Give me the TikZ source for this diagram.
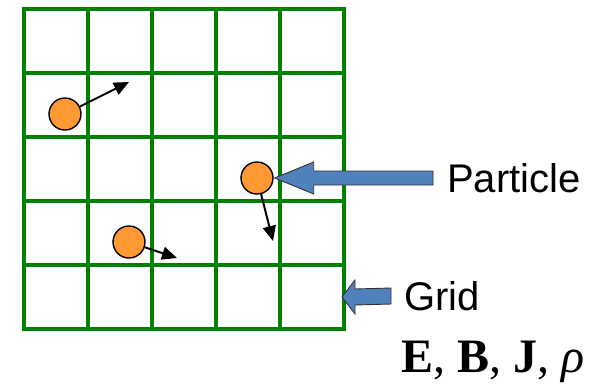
\documentclass[tikz,border=0pt]{standalone}
\usepackage{fontspec}
\setsansfont{Liberation Sans}
\newfontfamily\fieldfont{Liberation Serif}
\usetikzlibrary{arrows.meta,calc}
\definecolor{gridgreen}{RGB}{0,128,0}
\definecolor{partorange}{RGB}{255,153,51}
\definecolor{pointblue}{RGB}{79,129,189}
\tikzset{
  gridline/.style={draw=gridgreen,line width=3.6pt,line cap=rect},
  particle/.style={circle,draw=black,line width=1.4pt,fill=partorange,minimum size=32pt,inner sep=0pt},
  velocity/.style={line width=2pt,-{Triangle[length=15pt,width=13pt]}},
  blockarrow/.style={draw=black!80,line width=0.9pt,fill=pointblue,line join=miter},
  label/.style={font=\sffamily\fontsize{40}{42}\selectfont,inner sep=0pt}
}
\begin{document}
\begin{tikzpicture}[x=1pt,y=-1pt]
    \useasboundingbox (0,0) rectangle (601,386);
    % grid cells
    \foreach \k in {0,...,5} {
        \draw[gridline] (24+64*\k,9) -- (24+64*\k,329);
        \draw[gridline] (24,9+64*\k) -- (344,9+64*\k);
    }
    % particles and their velocities
    \node[particle] (p1) at (65,114) {};
    \node[particle] (p2) at (257,178) {};
    \node[particle] (p3) at (129,242) {};
    \coordinate (v1) at (129,82);
    \coordinate (v2) at (273,241);
    \coordinate (v3) at (177,258);
    \draw[velocity] (p1) -- (v1);
    \draw[velocity] (p2) -- (v2);
    \draw[velocity] (p3) -- (v3);
    % labels
    \node[label,anchor=west] (lblParticle) at (447,178) {Particle};
    \node[label,anchor=west] (lblGrid) at (404,296) {Grid};
    \node[anchor=base west,inner sep=0pt,font=\fieldfont\fontsize{48}{50}\selectfont] (fields) at (401,372) {\textbf{E}, \textbf{B}, \textbf{J}, \textit{ρ}};
    \coordinate (gridEdge) at (342,297);
    % pointers
    \draw[blockarrow] ($(p2.east)+(1,0)$) -- ++(39,-16) -- ++(0,9)
        -- ($(lblParticle.west)+(-14,-7)$) -- ++(0,14) -- ($(p2.east)+(40,7)$)
        -- ++(0,9) -- cycle;
    \draw[blockarrow] (gridEdge) -- ++(13,-17) -- ++(0,9)
        -- ($(lblGrid.west)+(-13,-8)$) -- ++(0,16) -- ($(gridEdge)+(13,8)$)
        -- ++(0,9) -- cycle;
\end{tikzpicture}
\end{document}
